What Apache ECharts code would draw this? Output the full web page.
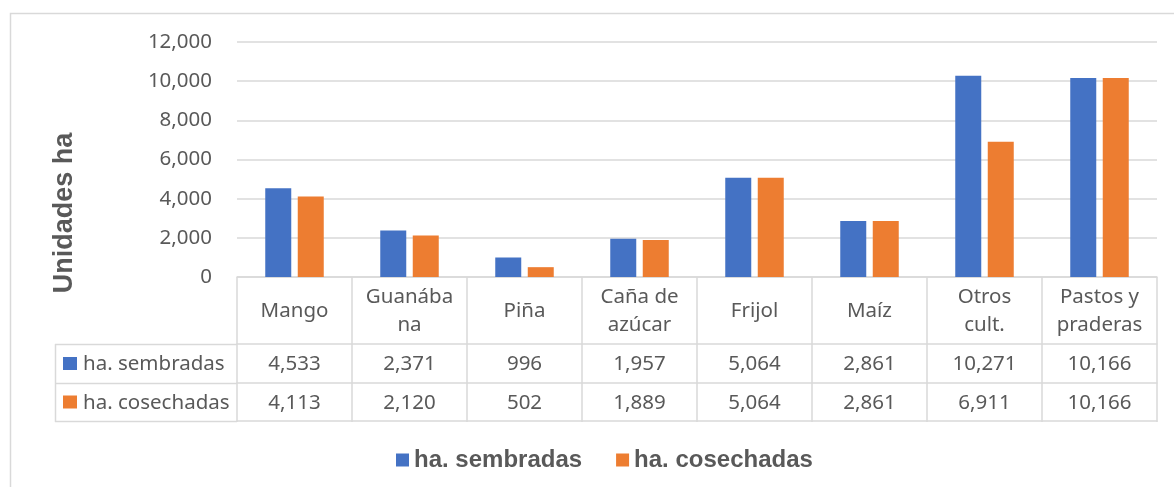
<!DOCTYPE html>
<html>
<head>
<meta charset="utf-8">
<script src="https://cdn.jsdelivr.net/npm/echarts@6/dist/echarts.min.js"></script>
<style>
html,body{margin:0;padding:0;background:#fff;}
#chart{width:1174px;height:487px;}
</style>
</head>
<body>
<div id="chart"></div>
<script>
// ---- data ----
const categories = ['Mango', 'Guanába\nna', 'Piña', 'Caña de\nazúcar', 'Frijol', 'Maíz', 'Otros\ncult.', 'Pastos y\npraderas'];
const seriesNames = ['ha. sembradas', 'ha. cosechadas'];
const sembradas = [4533, 2371, 996, 1957, 5064, 2861, 10271, 10166];
const cosechadas = [4113, 2120, 502, 1889, 5064, 2861, 6911, 10166];
const yAxisTitle = 'Unidades ha';
const yMin = 0, yMax = 12000, yInterval = 2000;

// ---- layout ----
const W = 1174, H = 487;
const GRID_L = 237, GRID_R = 1157, GRID_T = 42, GRID_B = 277;
const ROW1 = 344, ROW2 = 383, ROW3 = 421;
const TABLE_L = 55;
const GRAY = '#d9d9d9', TXT = '#595959';
const COLORS = ['#4472C4', '#ED7D31'];
const FONT = 'Noto Sans';
const FS = 20.5;

const fmt = v => Number(v).toLocaleString('en-US');
const rowVals = [sembradas, cosechadas];

const chart = echarts.init(document.getElementById('chart'), null, {renderer: 'canvas'});

const graphics = [
  // outer chart border
  {type: 'rect', silent: true, shape: {x: 10.5, y: 13.5, width: 1300, height: 600},
   style: {fill: 'none', stroke: GRAY, lineWidth: 1.5}},
  // y axis title
  {type: 'text', x: 65, y: 213, rotation: Math.PI / 2, silent: true,
   style: {text: yAxisTitle, x: 0, y: 0, align: 'center', verticalAlign: 'middle',
           font: 'bold 27px "Liberation Sans"', fill: TXT}},
  // row-header column lines
  {type: 'line', silent: true, shape: {x1: TABLE_L, y1: ROW1 + 0.5, x2: GRID_L, y2: ROW1 + 0.5}, style: {stroke: GRAY, lineWidth: 1.5}},
  {type: 'line', silent: true, shape: {x1: TABLE_L, y1: ROW2 + 0.5, x2: GRID_L, y2: ROW2 + 0.5}, style: {stroke: GRAY, lineWidth: 1.5}},
  {type: 'line', silent: true, shape: {x1: TABLE_L, y1: ROW3 + 0.5, x2: GRID_L, y2: ROW3 + 0.5}, style: {stroke: GRAY, lineWidth: 1.5}},
  {type: 'line', silent: true, shape: {x1: TABLE_L + 0.5, y1: ROW1, x2: TABLE_L + 0.5, y2: ROW3 + 1}, style: {stroke: GRAY, lineWidth: 1.5}}
];
// row header keys & names
const rowCenters = [(ROW1 + ROW2) / 2, (ROW2 + ROW3) / 2];
seriesNames.forEach((name, i) => {
  graphics.push({type: 'rect', silent: true, shape: {x: 63, y: rowCenters[i] - 6.5, width: 14, height: 13},
                 style: {fill: COLORS[i]}});
  graphics.push({type: 'text', silent: true, x: 83, y: rowCenters[i] + 1,
                 style: {text: name, x: 0, y: 0, align: 'left', verticalAlign: 'middle',
                         font: FS + 'px "' + FONT + '"', fill: TXT}});
});

const valueAxis = (rowIdx, offset, margin) => ({
  type: 'category', gridIndex: 0, position: 'bottom', offset: offset,
  data: categories,
  axisLine: {show: true, lineStyle: {color: GRAY, width: 1.5}},
  axisTick: {show: false},
  axisLabel: rowIdx === null ? {show: false} : {
    show: true, interval: 0, margin: margin, verticalAlign: 'middle',
    fontFamily: FONT, fontSize: FS, color: TXT,
    formatter: (v, idx) => fmt(rowVals[rowIdx][idx])
  },
  splitLine: {show: false}
});

const option = {
  animation: false,
  backgroundColor: '#fff',
  textStyle: {fontFamily: FONT},
  grid: {left: GRID_L, right: W - GRID_R, top: GRID_T, bottom: H - GRID_B, containLabel: false},
  legend: {
    data: seriesNames,
    left: 391, top: 443,
    icon: 'rect', itemWidth: 13, itemHeight: 13, itemGap: 34,
    textStyle: {fontFamily: 'Liberation Sans', fontWeight: 'bold', fontSize: 24, color: TXT}
  },
  xAxis: [
    {
      type: 'category', gridIndex: 0, position: 'bottom', data: categories,
      axisLine: {show: true, lineStyle: {color: GRAY, width: 1.5}},
      axisTick: {show: true, length: ROW3 - GRID_B + 1, inside: false, lineStyle: {color: GRAY, width: 1.5}},
      axisLabel: {show: true, interval: 0, margin: (ROW1 - GRID_B) / 2 + 1, verticalAlign: 'middle',
                  fontFamily: FONT, fontSize: FS, color: TXT, lineHeight: 28, align: 'center'},
      splitLine: {show: false}
    },
    valueAxis(0, ROW1 - GRID_B, (ROW2 - ROW1) / 2 + 1),
    valueAxis(1, ROW2 - GRID_B, (ROW3 - ROW2) / 2 + 1),
    valueAxis(null, ROW3 - GRID_B, 0)
  ],
  yAxis: {
    type: 'value', min: yMin, max: yMax, interval: yInterval,
    axisLine: {show: false}, axisTick: {show: false},
    axisLabel: {margin: 25, fontFamily: FONT, fontSize: FS, color: TXT, formatter: v => fmt(v)},
    splitLine: {lineStyle: {color: GRAY, width: 1.5}}
  },
  series: [
    {name: seriesNames[0], type: 'bar', xAxisIndex: 0, data: sembradas, barWidth: 26, barGap: '25%',
     itemStyle: {color: COLORS[0]}},
    {name: seriesNames[1], type: 'bar', xAxisIndex: 0, data: cosechadas, barWidth: 26, barGap: '25%',
     itemStyle: {color: COLORS[1]}}
  ],
  graphic: graphics
};
chart.setOption(option);
</script>
</body>
</html>
